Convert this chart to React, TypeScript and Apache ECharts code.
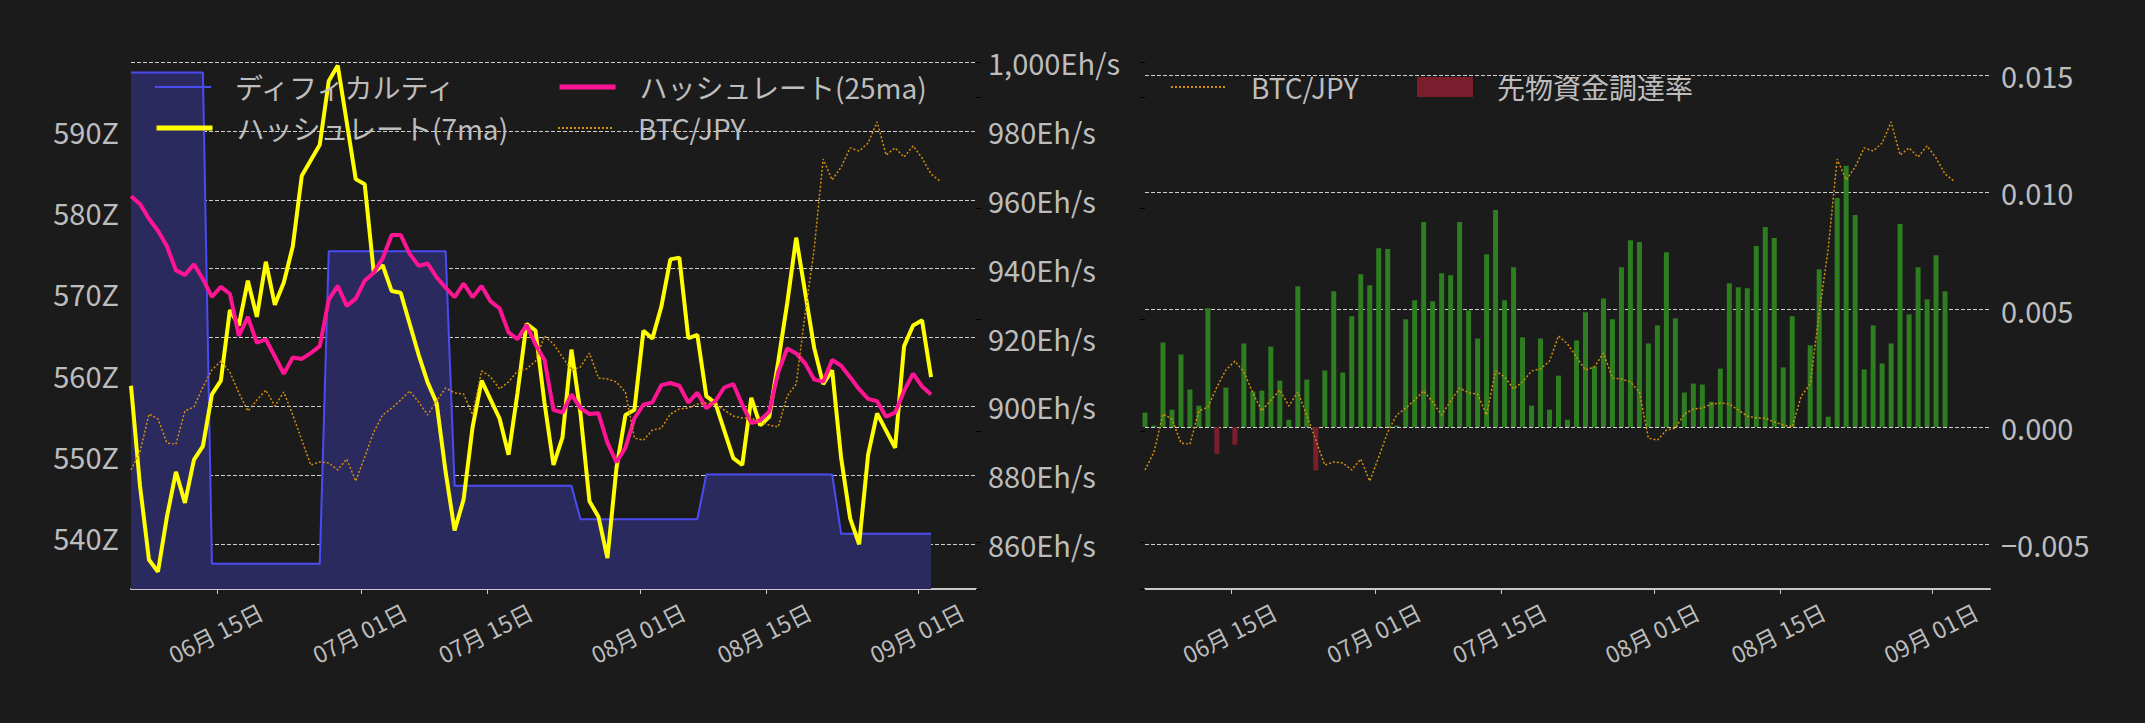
import React, { useEffect, useRef } from 'react';
import * as echarts from 'echarts';
import type { EChartsOption } from 'echarts';

// 日付：2025-06-05 から 1 日刻み（BTC/JPY だけ 1 日多い）
const dayCount = 91;
const pad2 = (n: number) => String(n).padStart(2, '0');
const dates: string[] = [];
for (let i = 0; i < dayCount; i++) {
  const d = new Date(2025, 5, 5 + i);
  dates.push(`${d.getFullYear()}-${pad2(d.getMonth() + 1)}-${pad2(d.getDate())}`);
}

// X 軸の目盛り（毎月 1 日と 15 日）
const tickDates = ['2025-06-15', '2025-07-01', '2025-07-15', '2025-08-01', '2025-08-15', '2025-09-01'];

// ディフィカルティ (Z)
const difficulty = [
  597.2, 597.2, 597.2, 597.2, 597.2, 597.2, 597.2, 597.2, 597.2,
  536.7, 536.7, 536.7, 536.7, 536.7, 536.7, 536.7, 536.7, 536.7, 536.7, 536.7, 536.7, 536.7,
  575.2, 575.2, 575.2, 575.2, 575.2, 575.2, 575.2, 575.2, 575.2, 575.2, 575.2, 575.2, 575.2, 575.2,
  546.3, 546.3, 546.3, 546.3, 546.3, 546.3, 546.3, 546.3, 546.3, 546.3, 546.3, 546.3, 546.3, 546.3,
  542.2, 542.2, 542.2, 542.2, 542.2, 542.2, 542.2, 542.2, 542.2, 542.2, 542.2, 542.2, 542.2, 542.2,
  547.7, 547.7, 547.7, 547.7, 547.7, 547.7, 547.7, 547.7, 547.7, 547.7, 547.7, 547.7, 547.7, 547.7, 547.7,
  540.4, 540.4, 540.4, 540.4, 540.4, 540.4, 540.4, 540.4, 540.4, 540.4, 540.4,
];

// ハッシュレート 7 日移動平均 (Eh/s)
const hashrate7ma = [
  906, 877, 855.5, 852, 868, 881, 872, 884.5, 888.5, 903.5,
  907.5, 928, 923.5, 936.5, 926, 942, 929.5, 936, 946.5, 967,
  971.5, 976, 994.5, 999, 982.5, 966, 964.5, 939, 941, 933.5,
  933, 924, 915, 907, 901, 881, 864, 873, 894, 907.5,
  902, 896.5, 886, 904, 924, 922, 901, 883, 891, 916.5,
  898, 872.5, 868, 856, 882, 897.5, 899, 922, 919.7, 929,
  942.7, 943.2, 919.8, 920.8, 903, 901, 893, 885, 883, 902.5,
  894.5, 897, 913, 930, 949, 933, 917, 906.5, 910.5, 885,
  867.5, 860, 886, 898, 893, 888, 917.5, 923.5, 925, 908.5,
];

// ハッシュレート 25 日移動平均 (Eh/s)
const hashrate25ma = [
  961, 958.8, 954.5, 951, 946.5, 939.5, 938.2, 941.3, 937, 931.8,
  934.7, 932.7, 920.5, 926, 918.5, 919.5, 914.5, 909.5, 914.2, 913.8,
  915.5, 917.5, 931, 935, 929.2, 931.3, 936.5, 938.8, 943, 949.8,
  949.8, 944.3, 940.8, 941.5, 937.5, 934.5, 931.7, 935.7, 931.7, 935,
  930.5, 928.5, 921.5, 919.5, 923.7, 918, 913.5, 899, 898.2, 903.5,
  899.5, 897.8, 898, 889.5, 883.8, 888, 896.5, 900.5, 901.2, 906.2,
  906.8, 906, 901.1, 904, 899.5, 901.5, 905.5, 906.5, 900.5, 895.2,
  896, 898.5, 910, 916.8, 915.4, 912.5, 907.8, 907.2, 913.5, 911.8,
  908.5, 905, 902.2, 901.5, 897, 898.2, 904.5, 909.5, 905.8, 903.5,
];

// BTC/JPY (円)
const btcJpy = [
  15324000, 15404000, 15575000, 15553000, 15445000, 15440000, 15589000, 15607000, 15697000, 15773000,
  15813000, 15764000, 15670000, 15589000, 15638000, 15683000, 15611000, 15674000, 15571000, 15458000,
  15346000, 15360000, 15355000, 15324000, 15373000, 15274000, 15382000, 15494000, 15571000, 15602000,
  15638000, 15679000, 15629000, 15571000, 15634000, 15692000, 15670000, 15665000, 15571000, 15769000,
  15742000, 15688000, 15719000, 15769000, 15778000, 15813000, 15926000, 15890000, 15831000, 15773000,
  15787000, 15849000, 15737000, 15733000, 15719000, 15674000, 15467000, 15458000, 15503000, 15512000,
  15575000, 15598000, 15602000, 15620000, 15625000, 15620000, 15593000, 15566000, 15557000, 15557000,
  15539000, 15526000, 15517000, 15656000, 15710000, 16029000, 16317000, 16721000, 16627000, 16685000,
  16771000, 16757000, 16793000, 16888000, 16739000, 16771000, 16730000, 16780000, 16726000, 16654000,
  16622000,
];

// 先物資金調達率
const fundingRate = [
  0.00061, 0.00006, 0.0036, 0.00074, 0.00309, 0.0016, 0.00091, 0.00506, -0.00114, 0.00168,
  -0.00075, 0.00356, 0.00151, 0.00155, 0.00343, 0.00198, 0.00031, 0.006, 0.00202, -0.00185,
  0.00241, 0.00578, 0.00232, 0.00472, 0.00651, 0.00604, 0.00762, 0.00758, 0.00006, 0.00459,
  0.0054, 0.00873, 0.00536, 0.00655, 0.00647, 0.00873, 0.00497, 0.00377, 0.00736, 0.00924,
  0.0054, 0.00681, 0.00382, 0.00091, 0.00377, 0.00074, 0.00219, 0.00031, 0.00369, 0.00489,
  0.00258, 0.00548, 0.00459, 0.00681, 0.00796, 0.00788, 0.00356, 0.00433, 0.00745, 0.00463,
  0.00147, 0.00185, 0.00181, 0.00108, 0.00249, 0.00613, 0.00595, 0.00591, 0.00771, 0.00852,
  0.00805, 0.00254, 0.00472, 0, 0.00348, 0.00672, 0.00044, 0.00976, 0.01113, 0.00903,
  0.00245, 0.00433, 0.00271, 0.00356, 0.00865, 0.0048, 0.00681, 0.00544, 0.00732, 0.00578,
];

// 軸の範囲
const xRange = ['2025-06-05', '2025-09-07'];
const difficultyRange = [533.6, 598.5];
const hashrateRange = [847, 1000];
const btcRange = [14789000, 17157000];
const fundingRange = [-0.0069, 0.01555];

const BG = '#1b1b1b';
const TEXT = '#bdbdbd';
const FONT = '"Noto Sans CJK JP", "Noto Sans", sans-serif';
const GRID_LINE = '#cfcfcf';
const BLUE = '#4b4bf2';
const YELLOW = '#ffff00';
const PINK = '#ff1493';
const ORANGE = '#d4900a';
const GREEN = '#2e7d21';
const RED = '#7a1e2d';

// データは 09:00、目盛りは 00:00
const tsOf = (d: string, hms = '09:00:00') => new Date(`${d}T${hms}`).getTime();
const times = dates.map((d) => tsOf(d));
const tickTimes = tickDates.map((d) => tsOf(d, '00:00:00'));

const fmtDate = (v: number) => {
  const d = new Date(v);
  return `${pad2(d.getMonth() + 1)}月 ${pad2(d.getDate())}日`;
};

// 時刻はミリ秒の数値軸として扱い、目盛りは customValues で指定する
// （斜めの日付ラベルは描画後に軸の座標から graphic で置く）
const makeXAxis = (gridIndex: number) => ({
  type: 'value',
  gridIndex,
  min: tsOf(xRange[0]),
  max: tsOf(xRange[1]),
  axisLine: { onZero: false, lineStyle: { color: '#c8c8c8', width: 2 } },
  axisTick: { customValues: tickTimes, length: 5, lineStyle: { color: '#c8c8c8' } },
  axisLabel: { show: false },
  splitLine: { show: false },
});

const dashed = { color: GRID_LINE, width: 1, type: [4, 2] };

const yLabel = { color: TEXT, fontSize: 29, fontFamily: FONT };

const legendBase = {
  itemWidth: 56,
  itemHeight: 20,
  itemGap: 0,
  padding: 0,
  selectedMode: false,
  itemStyle: { opacity: 0 },
  textStyle: { color: TEXT, fontSize: 28, fontFamily: FONT, padding: [0, 0, 0, 19] },
};

const pairs = (values: number[]) => values.map((v, i) => [times[i], v]);

const getOption = (): EChartsOption => ({
  backgroundColor: BG,
  animation: false,
  textStyle: { fontFamily: FONT },
  grid: [
    { left: 131, right: 1169, top: 62, bottom: 134 },
    { left: 1145, right: 155, top: 62, bottom: 134 },
  ],
  legend: [
    { ...legendBase, left: 154, top: 73, data: ['ディフィカルティ'], lineStyle: { width: 2 } },
    { ...legendBase, left: 557, top: 73, data: ['ハッシュレート(25ma)'], lineStyle: { width: 5 } },
    { ...legendBase, left: 154, top: 114, data: ['ハッシュレート(7ma)'], lineStyle: { width: 5 } },
    { ...legendBase, left: 557, top: 114, data: ['BTC/JPY'], lineStyle: { width: 2 } },
    { ...legendBase, left: 1170, top: 73, data: ['BTC/JPY'], lineStyle: { width: 2 } },
    {
      ...legendBase,
      left: 1417,
      top: 73,
      data: ['先物資金調達率'],
      icon: 'rect',
      itemStyle: { opacity: 1 },
    },
  ],
  xAxis: [makeXAxis(0), makeXAxis(1)] as any,
  yAxis: [
    {
      type: 'value',
      gridIndex: 0,
      position: 'left',
      min: difficultyRange[0],
      max: difficultyRange[1],
      splitNumber: 5,
      axisLine: { show: false },
      axisTick: { show: false },
      splitLine: { show: false },
      axisLabel: {
        ...yLabel,
        formatter: (v: number) => `${v}Z`,
        showMinLabel: false,
        showMaxLabel: false,
        margin: 12,
      },
    },
    {
      type: 'value',
      gridIndex: 0,
      position: 'right',
      min: hashrateRange[0],
      max: hashrateRange[1],
      splitNumber: 8,
      axisLine: { show: false },
      axisTick: { show: false },
      splitLine: { show: true, showMinLine: false, lineStyle: dashed },
      axisLabel: {
        ...yLabel,
        formatter: (v: number) => `${v.toLocaleString('en-US')}Eh/s`,
        showMinLabel: false,
        margin: 12,
      },
    },
    {
      type: 'value',
      gridIndex: 0,
      position: 'right',
      min: btcRange[0],
      max: btcRange[1],
      axisLine: { show: false },
      axisTick: { show: true, length: 5, lineStyle: { color: '#000' } },
      splitLine: { show: false },
      axisLabel: { show: false },
    },
    {
      type: 'value',
      gridIndex: 1,
      position: 'right',
      min: fundingRange[0],
      max: fundingRange[1],
      splitNumber: 5,
      axisLine: { show: false },
      axisTick: { show: false },
      splitLine: { show: true, showMinLine: false, showMaxLine: false, lineStyle: dashed },
      axisLabel: {
        ...yLabel,
        formatter: (v: number) => (v < 0 ? '\u2212' : '') + Math.abs(v).toFixed(3),
        showMinLabel: false,
        showMaxLabel: false,
        margin: 11,
      },
    },
    {
      type: 'value',
      gridIndex: 1,
      position: 'left',
      min: btcRange[0],
      max: btcRange[1],
      axisLine: { show: false },
      axisTick: { show: true, length: 5, lineStyle: { color: '#000' } },
      splitLine: { show: false },
      axisLabel: { show: false },
    },
  ] as any,
  series: [
    {
      name: 'ディフィカルティ',
      type: 'line',
      xAxisIndex: 0,
      yAxisIndex: 0,
      data: pairs(difficulty),
      symbol: 'none',
      lineStyle: { color: BLUE, width: 2 },
      itemStyle: { color: BLUE },
      areaStyle: { color: '#2a2a5e', opacity: 1 },
    },
    {
      name: 'ハッシュレート(7ma)',
      type: 'line',
      xAxisIndex: 0,
      yAxisIndex: 1,
      data: pairs(hashrate7ma),
      symbol: 'none',
      lineStyle: { color: YELLOW, width: 4 },
      itemStyle: { color: YELLOW },
    },
    {
      name: 'ハッシュレート(25ma)',
      type: 'line',
      xAxisIndex: 0,
      yAxisIndex: 1,
      data: pairs(hashrate25ma),
      symbol: 'none',
      lineStyle: { color: PINK, width: 4 },
      itemStyle: { color: PINK },
    },
    {
      name: 'BTC/JPY',
      type: 'line',
      xAxisIndex: 0,
      yAxisIndex: 2,
      data: pairs(btcJpy),
      symbol: 'none',
      lineStyle: { color: ORANGE, width: 1.5, type: [2, 2] },
      itemStyle: { color: ORANGE },
    },
    {
      name: '先物資金調達率',
      type: 'bar',
      xAxisIndex: 1,
      yAxisIndex: 3,
      barWidth: 5,
      itemStyle: { color: RED },
      data: fundingRate.map((v, i) => ({
        value: [times[i], v],
        itemStyle: { color: v >= 0 ? GREEN : RED },
      })),
    },
    {
      name: 'BTC/JPY',
      type: 'line',
      xAxisIndex: 1,
      yAxisIndex: 4,
      data: pairs(btcJpy),
      symbol: 'none',
      lineStyle: { color: ORANGE, width: 1.5, type: [2, 2] },
      itemStyle: { color: ORANGE },
    },
  ] as any,
});

// 日付ラベル：目盛りの位置を軸から求め、中央揃えで 27° 傾けて置く
const buildDateLabels = (chart: echarts.ECharts) => {
  const axes = [
    { xAxisIndex: 0, yAxisIndex: 0, yMin: difficultyRange[0] },
    { xAxisIndex: 1, yAxisIndex: 3, yMin: fundingRange[0] },
  ];
  return axes.flatMap(({ xAxisIndex, yAxisIndex, yMin }) => {
    const axisY = chart.convertToPixel({ yAxisIndex }, yMin) as number;
    return tickTimes.map((t) => ({
      type: 'text',
      silent: true,
      x: (chart.convertToPixel({ xAxisIndex }, t) as number) - 2,
      y: axisY + 43.5,
      rotation: (27 * Math.PI) / 180,
      style: {
        text: fmtDate(t),
        fill: TEXT,
        font: `23px ${FONT}`,
        align: 'center',
        verticalAlign: 'middle',
      },
    }));
  });
};

const App = () => {
  const chartRef = useRef<HTMLDivElement>(null);

  useEffect(() => {
    if (!chartRef.current) return;
    const chart = echarts.init(chartRef.current, undefined, { renderer: 'svg' });
    chart.setOption(getOption());
    chart.setOption({ graphic: buildDateLabels(chart) } as any);
    const onResize = () => chart.resize();
    window.addEventListener('resize', onResize);
    return () => {
      window.removeEventListener('resize', onResize);
      chart.dispose();
    };
  }, []);

  return (
    <div
      ref={chartRef}
      style={{ position: 'fixed', left: 0, top: 0, width: 2145, height: 723, background: BG }}
    />
  );
};

export default App;
